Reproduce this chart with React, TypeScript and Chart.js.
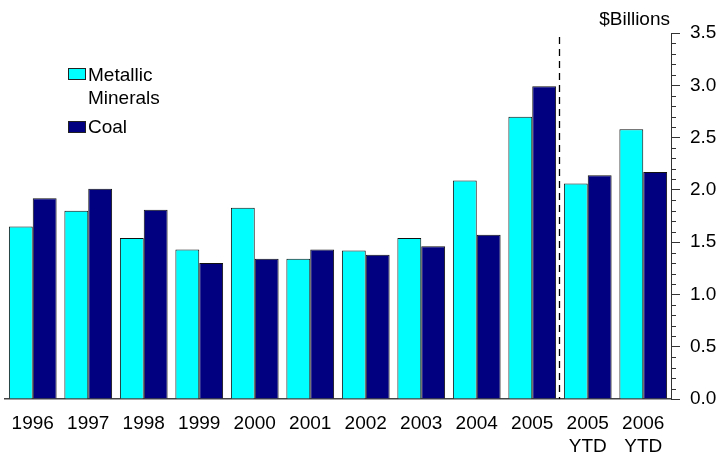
import React, { useEffect, useRef } from "react";
import { Chart, registerables } from "chart.js";

Chart.register(...registerables);

const categories: (string | string[])[] = [
  "1996", "1997", "1998", "1999", "2000", "2001", "2002", "2003", "2004", "2005",
  ["2005", "YTD"], ["2006", "YTD"],
];
const metallicMinerals = [1.65, 1.8, 1.54, 1.43, 1.83, 1.34, 1.42, 1.54, 2.09, 2.7, 2.06, 2.58];
const coal = [1.92, 2.01, 1.81, 1.3, 1.34, 1.43, 1.38, 1.46, 1.57, 2.99, 2.14, 2.17];
const yMin = 0;
const yMax = 3.5;
const yStep = 0.5;
const minorStep = 0.1;

const FONT = "Arial, 'Liberation Sans', Helvetica, sans-serif";

const overlayPlugin = {
  id: "overlay",
  afterDraw(chart: any) {
    const ctx = chart.ctx;
    const x = chart.scales.x;
    const y = chart.scales.y;
    const area = chart.chartArea;
    ctx.save();
    // minor ticks
    ctx.strokeStyle = "#333";
    ctx.lineWidth = 1;
    const n = Math.round((yMax - yMin) / minorStep);
    for (let i = 0; i <= n; i++) {
      const v = yMin + i * minorStep;
      if (Math.abs(v / yStep - Math.round(v / yStep)) < 1e-6) continue;
      const py = Math.round(y.getPixelForValue(v)) + 0.5;
      ctx.beginPath();
      ctx.moveTo(area.right, py);
      ctx.lineTo(area.right + 5, py);
      ctx.stroke();
    }
    // dashed separator between 2005 and 2005 YTD
    const sx = Math.round((x.getPixelForValue(9) + x.getPixelForValue(10)) / 2) - 0.5;
    ctx.strokeStyle = "#000";
    ctx.lineWidth = 1.3;
    ctx.setLineDash([7, 5]);
    ctx.beginPath();
    ctx.moveTo(sx, 37);
    ctx.lineTo(sx, area.bottom);
    ctx.stroke();
    ctx.setLineDash([]);
    // unit label
    ctx.fillStyle = "#000";
    ctx.font = `19px ${FONT}`;
    ctx.textAlign = "right";
    ctx.textBaseline = "alphabetic";
    ctx.fillText("$Billions", area.right - 1, 25);
    // legend
    ctx.textAlign = "left";
    const items = [
      { color: "#00FFFF", lines: ["Metallic", "Minerals"], boxY: 68, baseY: 81 },
      { color: "#000080", lines: ["Coal"], boxY: 121, baseY: 133 },
    ];
    items.forEach((it) => {
      ctx.fillStyle = it.color;
      ctx.fillRect(68, it.boxY, 18, 12);
      ctx.strokeStyle = "#222";
      ctx.lineWidth = 1;
      ctx.strokeRect(68.5, it.boxY + 0.5, 17, 11);
      ctx.fillStyle = "#000";
      it.lines.forEach((t, i) => ctx.fillText(t, 88, it.baseY + i * 23));
    });
    ctx.restore();
  },
};

export default function App() {
  const ref = useRef<HTMLCanvasElement>(null);
  useEffect(() => {
    document.body.style.margin = "0";
    const chart = new Chart(ref.current!, {
      type: "bar",
      data: {
        labels: categories as any,
        datasets: [
          {
            label: "Metallic Minerals",
            data: metallicMinerals,
            backgroundColor: "#00FFFF",
            borderColor: "#111",
            borderWidth: 1,
            categoryPercentage: 0.86,
            barPercentage: 1.0,
          },
          {
            label: "Coal",
            data: coal,
            backgroundColor: "#000080",
            borderColor: "#111",
            borderWidth: 1,
            categoryPercentage: 0.86,
            barPercentage: 1.0,
          },
        ],
      },
      options: {
        responsive: false,
        animation: false,
        layout: { padding: { top: 33, left: 5, right: 0, bottom: 0 } },
        plugins: { legend: { display: false }, tooltip: { enabled: false } },
        scales: {
          x: {
            grid: { display: false },
            border: { display: true, color: "#444", width: 1.5 },
            ticks: {
              color: "#000",
              font: { family: FONT, size: 19, lineHeight: 1.18 },
              padding: 6,
              maxRotation: 0,
              autoSkip: false,
            },
            afterFit(scale: any) {
              scale.height = 54;
            },
          },
          y: {
            position: "right",
            min: yMin,
            max: yMax,
            grid: { drawOnChartArea: false, drawTicks: true, tickLength: 9, color: "#333" },
            border: { display: true, color: "#333", width: 1 },
            ticks: {
              stepSize: yStep,
              color: "#000",
              padding: 10,
              font: { family: FONT, size: 19 },
              callback: (v: any) => Number(v).toFixed(1),
            },
            afterFit(scale: any) {
              scale.width = 46;
            },
          },
        },
      },
      plugins: [overlayPlugin],
    });
    return () => chart.destroy();
  }, []);
  return (
    <div style={{ width: 717, height: 453, position: "relative", background: "#fff" }}>
      <canvas ref={ref} width={717} height={453} style={{ width: 717, height: 453 }} />
    </div>
  );
}
